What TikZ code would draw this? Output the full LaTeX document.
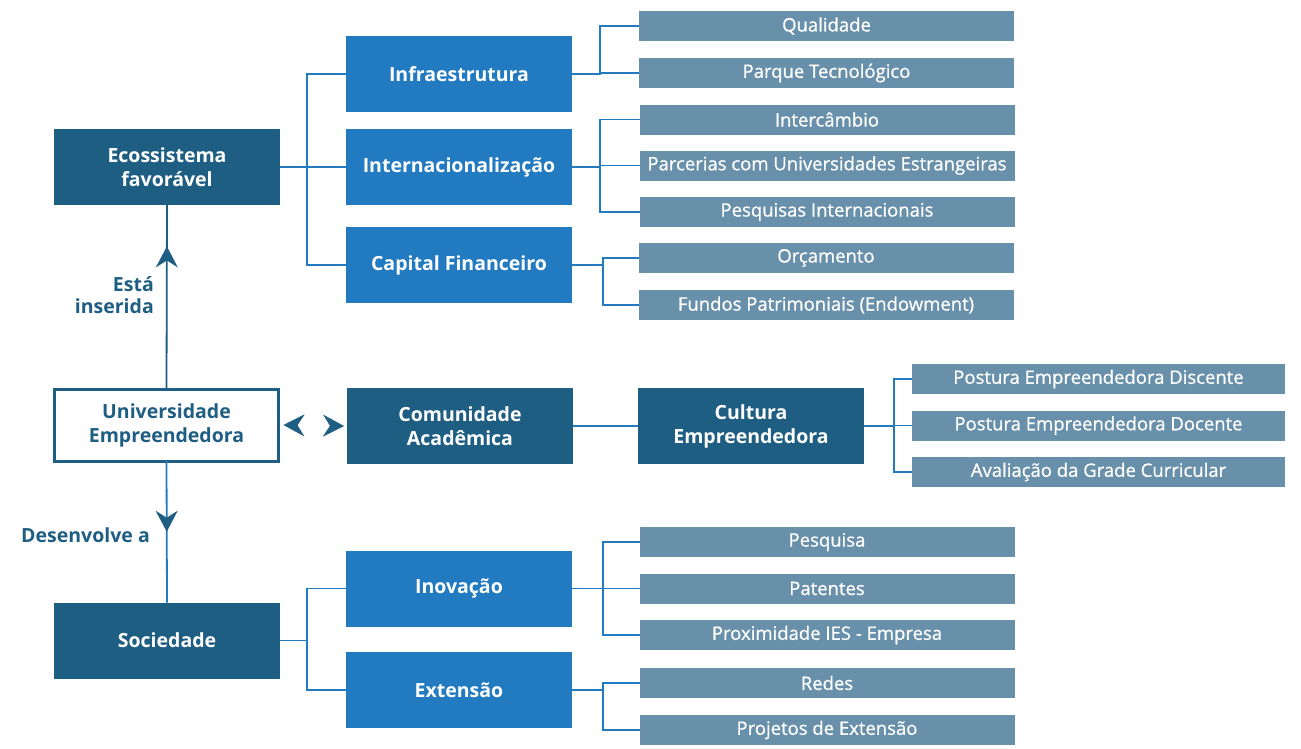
\documentclass[tikz,border=0pt]{standalone}
\usepackage{fontspec}
\setmainfont{Open Sans}
\newfontfamily\folhafonte{Open Sans}[FakeBold=0.8]
\usetikzlibrary{arrows.meta,positioning,decorations.markings}
\definecolor{escuro}{RGB}{31,94,131}
\definecolor{medio}{RGB}{34,123,192}
\definecolor{folha}{RGB}{104,144,170}
\begin{document}
\begin{tikzpicture}[x=1pt,y=-1pt]
				\tikzstyle{principal} = [rectangle, fill=escuro, text=white, font=\fontsize{19.5}{24}\selectfont\bfseries, align=center, minimum width=226pt, minimum height=76pt, inner sep=0pt, outer sep=0pt]
				\tikzstyle{ramo} = [principal, fill=medio]
				\tikzstyle{folha} = [rectangle, fill=folha, text=white, font=\fontsize{18.5}{20}\folhafonte, minimum width=375pt, minimum height=30pt, inner sep=0pt, outer sep=0pt]
				\tikzstyle{line} = [draw=medio, line width=1.8pt]
				\tikzstyle{seta} = [draw=escuro, line width=1.8pt, postaction={decorate}]
				\tikzstyle{rotulo} = [text=escuro, font=\fontsize{19.5}{22}\selectfont\bfseries, align=right, anchor=east, inner sep=0pt]
				\useasboundingbox (0,0) rectangle (1301,748);

				% coluna da esquerda
				\node [principal] (Ecossistema) at (167,167) {Ecossistema\\favorável};
				\node [principal, fill=white, text=escuro, draw=escuro, line width=3pt, minimum width=224pt, minimum height=72pt] (Universidade) at (166.5,425) {Universidade\\Empreendedora};
				\node [principal] (Sociedade) at (167,640.5) {Sociedade};

				% ecossistema
				\node [ramo] (Infra) at (459,74) {Infraestrutura};
				\node [ramo] (Intern) at (459,167) {Internacionalização};
				\node [ramo] (Capital) at (459,265) {Capital Financeiro};
				\node [folha] (Qualidade) at (826.5,26) {Qualidade};
				\node [folha, below of=Qualidade, node distance=47pt] (Parque) {Parque Tecnológico};
				\node [folha] (Intercambio) at (827,119.5) {Intercâmbio};
				\node [folha, below of=Intercambio, node distance=46pt] (Parcerias) {Parcerias com Universidades Estrangeiras};
				\node [folha, below of=Parcerias, node distance=46.5pt] (PesqInt) {Pesquisas Internacionais};
				\node [folha] (Orcamento) at (826,258) {Orçamento};
				\node [folha, below of=Orcamento, node distance=47pt] (Fundos) {Fundos Patrimoniais (Endowment)};
				\path [line] (Ecossistema.east) -- ++(27,0) |- (Infra.west);
				\path [line] (Ecossistema.east) -- (Intern.west);
				\path [line] (Ecossistema.east) -- ++(27,0) |- (Capital.west);
				\path [line] (Infra.east) -- ++(28,0) |- (Qualidade.west);
				\path [line] (Infra.east) -- ++(28,0) |- (Parque.west);
				\path [line] (Intern.east) -- ++(28,0) |- (Intercambio.west);
				\path [line] (Intern.east) -- ++(28,0) |- (Parcerias.west);
				\path [line] (Intern.east) -- ++(28,0) |- (PesqInt.west);
				\path [line] (Capital.east) -- ++(31,0) |- (Orcamento.west);
				\path [line] (Capital.east) -- ++(31,0) |- (Fundos.west);

				% comunidade academica
				\node [principal, minimum width=226pt] (Comunidade) at (460,426) {Comunidade\\Acadêmica};
				\node [principal] (Cultura) at (751,426) {Cultura\\Empreendedora};
				\node [folha, minimum width=373pt] (Discente) at (1098.5,379) {Postura Empreendedora Discente};
				\node [folha, minimum width=373pt, below of=Discente, node distance=46.5pt] (Docente) {Postura Empreendedora Docente};
				\node [folha, minimum width=373pt, below of=Docente, node distance=46.5pt] (Grade) {Avaliação da Grade Curricular};
				\path [line] (Comunidade.east) -- (Cultura.west);
				\path [line] (Cultura.east) -- ++(30,0) |- (Discente.west);
				\path [line] (Cultura.east) -- ++(30,0) |- (Docente.west);
				\path [line] (Cultura.east) -- ++(30,0) |- (Grade.west);

				% sociedade
				\node [ramo] (Inovacao) at (459,588.5) {Inovação};
				\node [ramo] (Extensao) at (459,690) {Extensão};
				\node [folha] (Pesquisa) at (827,542) {Pesquisa};
				\node [folha, below of=Pesquisa, node distance=46.5pt] (Patentes) {Patentes};
				\node [folha, below of=Patentes, node distance=46.5pt] (Proximidade) {Proximidade IES - Empresa};
				\node [folha] (Redes) at (827,683) {Redes};
				\node [folha, below of=Redes, node distance=47pt] (Projetos) {Projetos de Extensão};
				\path [line] (Sociedade.east) -- ++(27,0) |- (Inovacao.west);
				\path [line] (Sociedade.east) -- ++(27,0) |- (Extensao.west);
				\path [line] (Inovacao.east) -- ++(31,0) |- (Pesquisa.west);
				\path [line] (Inovacao.east) -- ++(31,0) |- (Patentes.west);
				\path [line] (Inovacao.east) -- ++(31,0) |- (Proximidade.west);
				\path [line] (Extensao.east) -- ++(31,0) |- (Redes.west);
				\path [line] (Extensao.east) -- ++(31,0) |- (Projetos.west);

				% setas da universidade
				\path [seta, decoration={markings, mark=at position 0.775 with {\arrow[escuro]{Stealth[length=21pt, width=22pt, inset=7pt]}}}] (Universidade.north) -- (Ecossistema.south);
				\path [seta, draw=medio, decoration={markings, mark=at position 0.5 with {\arrow[escuro]{Stealth[length=21pt, width=22pt, inset=7pt]}}}] (Universidade.south) -- (Sociedade.north);
				\path [decoration={markings, mark=at position 0 with {\arrowreversed[escuro]{Stealth[length=21pt, width=22pt, inset=7pt]}}, mark=at position 1 with {\arrow[escuro]{Stealth[length=21pt, width=22pt, inset=7pt]}}}, decorate] ([xshift=5pt]Universidade.east) -- ([xshift=-3pt]Comunidade.west);
				\node [rotulo] (Inserida) at (154,295) {Está\\inserida};
				\node [rotulo] (Desenvolve) at (150,535) {Desenvolve a};
\end{tikzpicture}
\end{document}
